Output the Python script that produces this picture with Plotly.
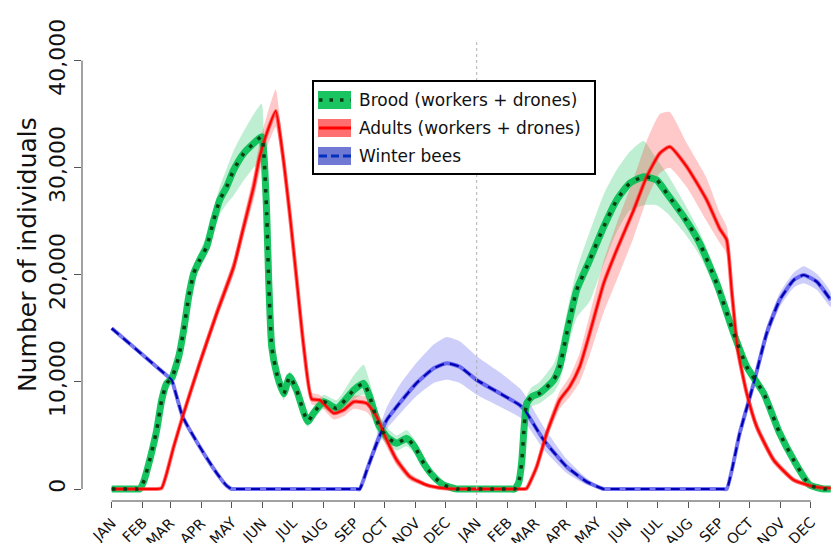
import plotly.graph_objects as go

# ---------------- data (day index from 1 Jan of year 1) ----------------
months = ["JAN", "FEB", "MAR", "APR", "MAY", "JUN", "JUL", "AUG", "SEP", "OCT", "NOV", "DEC"]
month_start_days = [0, 31, 59, 90, 120, 151, 181, 212, 243, 273, 304, 334]
year_days = 365

brood_day = [0, 24, 28, 32, 38, 45, 50, 55, 60, 67, 72, 77, 82, 88, 95, 102, 108, 115, 122, 132, 142,
             150, 152, 155, 157, 160, 165, 172, 178, 185, 196, 202, 212, 225, 242, 252, 258, 267, 275, 285, 295,
             303, 312, 322, 332, 345, 350, 398, 403, 407, 410, 412, 415, 420, 428, 435, 442, 448, 455, 465, 478, 492, 505,
             518, 532, 545, 555, 572, 588, 605, 622, 635, 652, 668, 682, 698, 712, 719]
brood_mean = [0, 0, 0, 700, 2700, 5500, 8300, 9870, 10340, 12350, 14850, 17950, 20140, 21380, 22620, 25120, 26980, 28230, 29790, 31340, 32280,
              32900, 31500, 25700, 19500, 13300, 10800, 8900, 10500, 9200, 6300, 7100, 8150, 7530, 9240, 9870, 8620, 5980, 4880, 4270, 4730,
              3950, 2400, 1150, 370, 0, 0, 0, 0, 600, 2500, 5200, 8000, 8600, 8940, 9500, 10180, 11420, 14540, 18580, 21380, 24490, 26980,
              28540, 29160, 28850, 27610, 25430, 22940, 19200, 14540, 11420, 8940, 5200, 2700, 370, 0, 0]
brood_lo = [0, 0, 0, 400, 2300, 5000, 7800, 9400, 9900, 11800, 14200, 17300, 19400, 20600, 21800, 24000, 25600, 26600, 27400, 28800, 30000,
            30500, 29500, 24500, 18500, 12500, 10200, 8300, 9800, 8600, 5800, 6500, 7500, 6900, 8400, 8800, 7600, 5000, 4200, 3600, 4000,
            3300, 1900, 800, 200, 0, 0, 0, 0, 400, 2000, 4500, 7200, 7700, 8000, 8500, 9000, 10000, 12800, 16000, 17500, 21000, 24000,
            26000, 26500, 26500, 25800, 24000, 21800, 18300, 13800, 10800, 8400, 4800, 2400, 250, 0, 0]
brood_hi = [0, 0, 0, 1000, 3100, 6000, 8800, 10300, 10800, 12900, 15400, 18600, 20900, 22200, 23600, 26200, 28200, 29900, 31600, 33400, 35000,
            36000, 33500, 27000, 20500, 14200, 11400, 9500, 11000, 9800, 6900, 7700, 8800, 8300, 10600, 11600, 10000, 7000, 5800, 5000, 5500,
            4600, 2900, 1500, 550, 0, 0, 0, 0, 900, 3000, 5800, 8700, 9500, 10000, 10800, 11700, 13200, 16400, 20500, 24000, 27500, 29800,
            31500, 32500, 30800, 29500, 26800, 24000, 20100, 15300, 12000, 9500, 5700, 3000, 500, 0, 0]

adult_day = [0, 41, 45, 50, 55, 62, 72, 88, 105, 122, 132, 142, 148, 155, 164, 170, 178, 185, 192, 200, 208,
             222, 232, 242, 255, 265, 275, 285, 298, 315, 332, 345, 350, 407, 412, 415, 425, 435, 448, 458, 468, 478, 492,
             505, 522, 535, 548, 558, 575, 595, 608, 615, 620, 626, 635, 645, 662, 682, 702, 719]
adult_mean = [0, 0, 0, 100, 1470, 3950, 7070, 11740, 16400, 20760, 24490, 28230, 31030, 33210, 35300, 31960, 25740, 19510, 13290, 8400, 8310,
              7070, 7380, 8150, 8000, 6750, 4575, 2700, 1150, 370, 60, 0, 0, 0, 0, 60, 2080, 5200, 8310, 9550, 11420, 14540, 19200,
              22320, 26050, 29160, 31340, 31960, 30100, 26980, 24300, 23250, 18500, 13000, 8940, 5820, 2700, 840, 215, 60]
adult_lo = [0, 0, 0, 0, 1200, 3600, 6700, 11200, 15800, 20000, 23600, 27000, 29600, 31800, 33800, 30800, 24800, 18700, 12600, 7900, 7800,
            6500, 6800, 7500, 7200, 5900, 3900, 2200, 800, 200, 0, 0, 0, 0, 0, 0, 1700, 4600, 7500, 8600, 10000, 12500, 16500,
            19500, 23500, 27000, 29500, 30000, 28200, 25000, 23000, 22000, 17500, 12300, 8400, 5300, 2300, 600, 100, 0]
adult_hi = [0, 0, 0, 200, 1800, 4300, 7500, 12300, 17000, 21500, 25400, 29400, 32400, 34800, 37300, 33000, 26600, 20300, 14000, 9000, 8800,
            7600, 8000, 8700, 8600, 7400, 5300, 3200, 1500, 550, 150, 0, 0, 0, 0, 150, 2500, 5800, 9100, 10500, 12700, 16300, 21300,
            24800, 29000, 32500, 35000, 35200, 32300, 29000, 25800, 24500, 19700, 14000, 9600, 6400, 3100, 1100, 350, 150]

winter_day = [0, 30, 58, 60, 71, 88, 105, 115, 120, 124, 244, 248, 256, 265, 275, 288, 305, 322, 335, 348, 365, 388,
              408, 413, 432, 455, 475, 492, 496, 611, 615, 628, 642, 655, 668, 682, 692, 705, 719]
winter_mean = [15000, 12600, 10360, 10180, 6750, 3950, 1490, 300, 0, 0, 0, 0, 2000, 4270, 6440, 8030, 9900, 11270, 11740, 11420, 10180, 8940,
               7840, 7380, 4575, 2080, 680, 0, 0, 0, 0, 5200, 9870, 14540, 17650, 19510, 19980, 19360, 17650]
winter_lo = [15000, 12600, 10360, 10180, 6750, 3950, 1490, 300, 0, 0, 0, 0, 1700, 3700, 5600, 7000, 8700, 9900, 10200, 9900, 8800, 7700,
             6700, 6300, 3700, 1500, 400, 0, 0, 0, 0, 4800, 9300, 13900, 17000, 18800, 19200, 18600, 17000]
winter_hi = [15000, 12600, 10360, 10180, 6750, 3950, 1490, 300, 0, 0, 0, 0, 2400, 5000, 7600, 9700, 11800, 13500, 14200, 13800, 12400, 10900,
             9400, 8800, 5800, 2800, 1000, 0, 0, 0, 0, 5600, 10400, 15200, 18300, 20200, 20800, 20100, 18400]

y_ticks = [0, 10000, 20000, 30000, 40000]
y_ticklabels = ["0", "10,000", "20,000", "30,000", "40,000"]
legend_labels = ["Brood (workers + drones)", "Adults (workers + drones)", "Winter bees"]

# ---------------- layout geometry ----------------
W, H = 831, 543
ML, MR, MT, MB = 82, 0, 42, 42
PW, PH = W - ML - MR, H - MT - MB
X_RANGE = [-29.7, 719.3]


def px(X):
    return (X - ML) / PW


def py(Y):
    return (H - MB - Y) / PH


GREEN = (0, 190, 80)
RED = (255, 40, 40)
BLUE = (60, 60, 235)
SMOOTH = 0.5


def rgba(c, a):
    return "rgba(%d,%d,%d,%.2f)" % (c[0], c[1], c[2], a)


fig = go.Figure()


def band(days, lo, hi, col, alpha):
    fig.add_trace(go.Scatter(x=list(days) + list(days)[::-1], y=list(hi) + list(lo)[::-1],
                             fill="toself", fillcolor=rgba(col, alpha),
                             line=dict(width=0, shape="spline", smoothing=SMOOTH),
                             mode="lines", hoverinfo="skip", showlegend=False))


band(winter_day, winter_lo, winter_hi, BLUE, 0.25)
band(brood_day, brood_lo, brood_hi, GREEN, 0.25)
band(adult_day, adult_lo, adult_hi, RED, 0.25)

# dense ensemble cores
fig.add_trace(go.Scatter(x=winter_day, y=winter_mean, mode="lines",
                         line=dict(color=rgba(BLUE, 0.7), width=4, shape="spline", smoothing=SMOOTH),
                         showlegend=False, hoverinfo="skip"))
fig.add_trace(go.Scatter(x=brood_day, y=brood_mean, mode="lines",
                         line=dict(color=rgba(GREEN, 0.9), width=7, shape="spline", smoothing=SMOOTH),
                         showlegend=False, hoverinfo="skip"))
fig.add_trace(go.Scatter(x=adult_day, y=adult_mean, mode="lines",
                         line=dict(color=rgba(RED, 0.65), width=4, shape="spline", smoothing=SMOOTH),
                         showlegend=False, hoverinfo="skip"))
# mean lines
fig.add_trace(go.Scatter(x=winter_day, y=winter_mean, mode="lines",
                         line=dict(color="#0000b4", width=2.2, dash="9px,6px", shape="spline", smoothing=SMOOTH),
                         showlegend=False))
fig.add_trace(go.Scatter(x=adult_day, y=adult_mean, mode="lines",
                         line=dict(color="#ff0000", width=2, shape="spline", smoothing=SMOOTH),
                         showlegend=False))
fig.add_trace(go.Scatter(x=brood_day, y=brood_mean, mode="lines",
                         line=dict(color="#0b3a12", width=3.5, dash="3.5px,8px", shape="spline", smoothing=SMOOTH),
                         showlegend=False))

tickvals = month_start_days + [year_days + d for d in month_start_days]
ticktext = months + months

shapes = [
    # R-style axis lines
    dict(type="line", xref="paper", yref="y", x0=0, x1=0, y0=y_ticks[0], y1=y_ticks[-1],
         line=dict(color="#444", width=1)),
    dict(type="line", xref="x", yref="paper", x0=tickvals[0], x1=tickvals[-1], y0=0, y1=0,
         line=dict(color="#444", width=1)),
    # year separator
    dict(type="line", xref="x", yref="paper", x0=year_days, x1=year_days, y0=0, y1=1,
         line=dict(color="#b0b0b0", width=1, dash="dot")),
    # legend box
    dict(type="rect", xref="paper", yref="paper", x0=px(313), x1=px(595), y0=py(174), y1=py(81),
         line=dict(color="black", width=2), fillcolor="white", layer="above"),
]

annotations = []
row_y = [100, 128, 156]
patch_cols = [rgba(GREEN, 0.9), "rgba(255,95,95,0.9)", "rgba(95,105,205,0.9)"]
pat_lines = [dict(color="#0b3a12", width=3.5, dash="3.5px,7px"),
             dict(color="#ff0000", width=3),
             dict(color="#0030c0", width=3, dash="8px,4px")]
for i, lab in enumerate(legend_labels):
    yc = row_y[i]
    shapes.append(dict(type="rect", xref="paper", yref="paper", x0=px(318), x1=px(351),
                       y0=py(yc + 9), y1=py(yc - 9), line=dict(width=0), fillcolor=patch_cols[i], layer="above"))
    shapes.append(dict(type="line", xref="paper", yref="paper", x0=px(319), x1=px(351),
                       y0=py(yc), y1=py(yc), line=pat_lines[i], layer="above"))
    annotations.append(dict(xref="paper", yref="paper", x=px(357), y=py(yc), xanchor="left", yanchor="middle",
                            text=lab, showarrow=False, font=dict(size=17, color="#111", family="DejaVu Sans")))

# month labels (rotated 45 degrees, end of text just right of each tick)
for v, t in zip(tickvals, ticktext):
    annotations.append(dict(xref="x", yref="paper", x=v, y=py(512), xshift=10,
                            xanchor="right", yanchor="top", text=t, textangle=-45, showarrow=False,
                            font=dict(size=14.5, color="#111", family="DejaVu Sans")))

annotations.append(dict(xref="paper", yref="paper", x=px(27), y=py(255), xanchor="center", yanchor="middle",
                        text="Number of individuals", textangle=-90, showarrow=False,
                        font=dict(size=25, color="#111", family="DejaVu Sans")))

fig.update_layout(
    width=W, height=H, margin=dict(l=ML, r=MR, t=MT, b=MB, autoexpand=False),
    paper_bgcolor="white", plot_bgcolor="white",
    font=dict(family="DejaVu Sans", color="#111"),
    showlegend=False,
    shapes=shapes, annotations=annotations,
    xaxis=dict(range=X_RANGE, tickvals=tickvals, ticktext=ticktext, showticklabels=False,
               ticks="outside", ticklen=6, tickcolor="#555", tickwidth=1, automargin=False,
               showgrid=False, zeroline=False, showline=False),
    yaxis=dict(range=[-1120, 41736], tickvals=y_ticks, ticktext=y_ticklabels, tickangle=-90,
               ticks="outside", ticklen=7, tickcolor="#555", tickwidth=1, automargin=False,
               showgrid=False, zeroline=False, showline=False,
               tickfont=dict(size=22, color="#111", family="DejaVu Sans")),
)

fig.write_html("out.html", config={"displayModeBar": False},
               post_script="document.body.style.margin='0';document.body.style.overflow='hidden';")
